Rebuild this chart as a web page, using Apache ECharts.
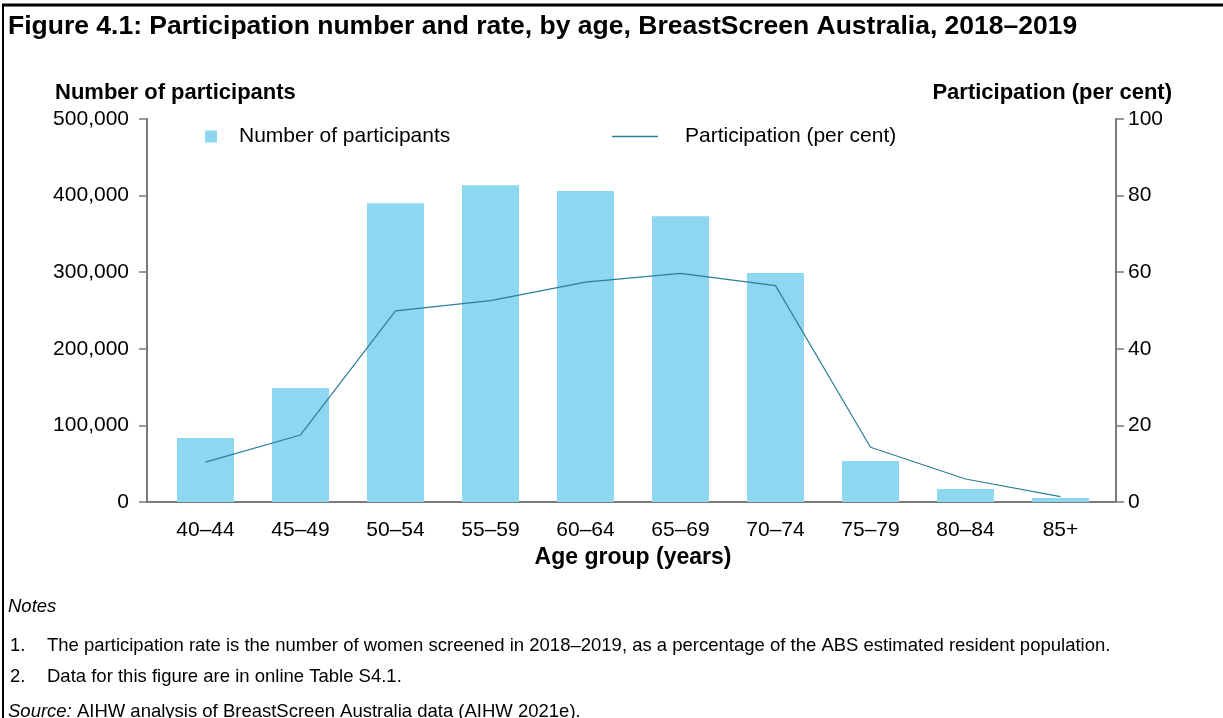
<!DOCTYPE html>
<html>
<head>
<meta charset="utf-8">
<script src="https://cdn.jsdelivr.net/npm/echarts@6/dist/echarts.min.js"></script>
<style>
  html, body { margin: 0; padding: 0; background: #fff; }
  #chart { width: 1223px; height: 718px; }
</style>
</head>
<body>
<div id="chart"></div>
<script>
// age groups (x axis)
var ageGroups = ['40–44', '45–49', '50–54', '55–59', '60–64', '65–69', '70–74', '75–79', '80–84', '85+']
// number of women screened
var participants = [83500, 148800, 390000, 413500, 406000, 373000, 299000, 53500, 17000, 5200]
// participation rate, per cent
var rate = [10.4, 17.5, 49.9, 52.6, 57.4, 59.7, 56.5, 14.3, 6.0, 1.4]

var leftTicks = { min: 0, max: 500000, interval: 100000 }
var rightTicks = { min: 0, max: 100, interval: 20 }

var font = 'Liberation Sans, Arial, sans-serif'
var axisGrey = '#7a7a7a'
var barColor = '#8dd7f0'
var lineColor = '#2b7e97'

// plain text block helper for the title components
function txt(text, left, top, size, extra) {
  var t = {
    text: text, left: left, top: top, padding: 0,
    textStyle: Object.assign({ fontSize: size, fontWeight: 'normal', color: '#000', fontFamily: font }, extra || {})
  }
  return t
}

var chart = echarts.init(document.getElementById('chart'))

var sourceTitle = txt('{i|Source:} AIHW analysis of BreastScreen Australia data (AIHW 2021e).', 8, 702, 18.5, {
  rich: { i: { fontSize: 18.5, fontStyle: 'italic', color: '#000', fontFamily: font } }
})

var rightName = txt('Participation (per cent)', 'auto', 82, 22, { fontWeight: 'bold' })
rightName.left = null
rightName.right = 51

var option = {
  animation: false,
  textStyle: { fontFamily: font },
  title: [
    txt('Figure 4.1: Participation number and rate, by age, BreastScreen Australia, 2018–2019', 8, 13, 26.5, { fontWeight: 'bold' }),
    txt('Number of participants', 55, 82, 22, { fontWeight: 'bold' }),
    rightName,
    txt('Notes', 8, 597, 18.5, { fontStyle: 'italic' }),
    txt('1.', 10, 636, 18.5),
    txt('The participation rate is the number of women screened in 2018–2019, as a percentage of the ABS estimated resident population.', 47, 636, 18.5),
    txt('2.', 10, 667, 18.5),
    txt('Data for this figure are in online Table S4.1.', 47, 667, 18.5),
    sourceTitle
  ],
  legend: [
    {
      data: [{ name: 'Number of participants', icon: 'rect' }],
      left: 205, top: 126, padding: 0,
      itemWidth: 12, itemHeight: 12,
      textStyle: { fontSize: 21, color: '#000', padding: [0, 0, 0, 17] }
    },
    {
      data: [{ name: 'Participation (per cent)', icon: 'rect' }],
      left: 612, top: 126, padding: 0,
      itemWidth: 46, itemHeight: 1.5,
      textStyle: { fontSize: 21, color: '#000', padding: [0, 0, 0, 22] }
    }
  ],
  grid: [
    // frame holding the visible axes
    { left: 147, right: 107, top: 119, bottom: 216 },
    // data area, slightly inset as in the original
    { left: 158, right: 115, top: 119, bottom: 216 }
  ],
  xAxis: [
    {
      gridIndex: 0, type: 'value', min: 0, max: 1,
      axisLine: { show: true, onZero: false, lineStyle: { color: axisGrey, width: 2 } },
      axisTick: { show: false }, axisLabel: { show: false }, splitLine: { show: false }
    },
    {
      gridIndex: 1, type: 'category', data: ageGroups,
      axisLine: { show: false }, axisTick: { show: false },
      axisLabel: { fontSize: 21, color: '#000', margin: 18 },
      name: 'Age group (years)', nameLocation: 'middle', nameGap: 38,
      nameTextStyle: { fontSize: 23, fontWeight: 'bold', color: '#000' }
    }
  ],
  yAxis: [
    {
      gridIndex: 0, type: 'value', position: 'left',
      min: leftTicks.min, max: leftTicks.max, interval: leftTicks.interval,
      axisLine: { show: true, lineStyle: { color: axisGrey, width: 2 } },
      axisTick: { show: true, length: 8, lineStyle: { color: axisGrey, width: 1.5 } },
      axisLabel: { fontSize: 21, color: '#000', margin: 18 },
      splitLine: { show: false }
    },
    {
      gridIndex: 0, type: 'value', position: 'right',
      min: rightTicks.min, max: rightTicks.max, interval: rightTicks.interval,
      axisLine: { show: true, lineStyle: { color: axisGrey, width: 2 } },
      axisTick: { show: true, length: 8, lineStyle: { color: axisGrey, width: 1.5 } },
      axisLabel: { fontSize: 21, color: '#000', margin: 12 },
      splitLine: { show: false }
    },
    {
      gridIndex: 1, type: 'value', min: leftTicks.min, max: leftTicks.max, show: false
    },
    {
      gridIndex: 1, type: 'value', min: rightTicks.min, max: rightTicks.max, show: false
    }
  ],
  series: [
    {
      name: 'Number of participants',
      type: 'bar',
      xAxisIndex: 1, yAxisIndex: 2,
      barWidth: 57,
      itemStyle: { color: barColor },
      data: participants
    },
    {
      name: 'Participation (per cent)',
      type: 'line',
      xAxisIndex: 1, yAxisIndex: 3,
      symbol: 'none',
      lineStyle: { color: lineColor, width: 1.2 },
      itemStyle: { color: lineColor },
      data: rate
    }
  ],
  graphic: [
    // outer frame: top and left rules
    { type: 'line', shape: { x1: 2, y1: 5, x2: 1223, y2: 5 }, style: { stroke: '#000', lineWidth: 3 } },
    { type: 'line', shape: { x1: 3, y1: 4, x2: 3, y2: 718 }, style: { stroke: '#000', lineWidth: 2 } }
  ]
}

chart.setOption(option)
</script>
</body>
</html>
